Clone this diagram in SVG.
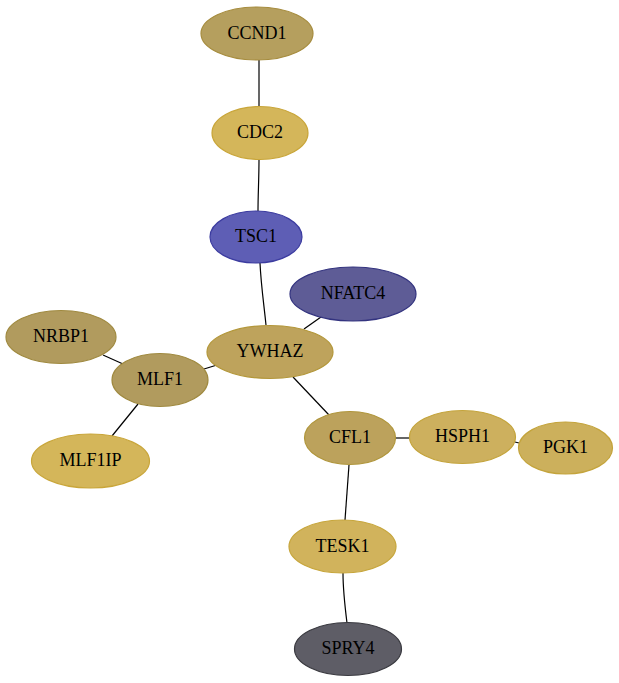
<svg xmlns="http://www.w3.org/2000/svg" width="619" height="683" viewBox="0 0 619 683">
<style>
  .edge { stroke: #000; stroke-width: 1.2; fill: none; }
  .node ellipse { stroke-width: 1.2; }
  .node text { font-family: "Liberation Serif", "Times New Roman", serif; font-size: 18px; text-anchor: middle; fill: #000; }
</style>
<rect width="619" height="683" fill="#fff"/>
<g id="edges">
  <path class="edge" d="M259,60 L259,107"/>
  <path class="edge" d="M259,160 C259,178 258,195 258,211"/>
  <path class="edge" d="M260,263 C261,285 264,305 266,325"/>
  <path class="edge" d="M321,317 L304,329"/>
  <path class="edge" d="M103,355 L123,364"/>
  <path class="edge" d="M204,369 L217,365"/>
  <path class="edge" d="M138,404 L112,436"/>
  <path class="edge" d="M293,377 L329,415"/>
  <path class="edge" d="M396,438 L409,438"/>
  <path class="edge" d="M515,442 L519,443"/>
  <path class="edge" d="M349,465 L345,520"/>
  <path class="edge" d="M343,573 C343,590 345,607 347,623"/>
</g>
<g id="CCND1" class="node"><ellipse cx="257" cy="33.5" rx="56" ry="26.5" fill="#b59f5e" stroke="#a68c3e"/><text x="257" y="38.5">CCND1</text></g>
<g id="CDC2" class="node"><ellipse cx="260" cy="133" rx="48" ry="26.5" fill="#d4b65a" stroke="#c9a63a"/><text x="260" y="138">CDC2</text></g>
<g id="TSC1" class="node"><ellipse cx="256" cy="237" rx="46" ry="26" fill="#5e5eb5" stroke="#3c3ca0"/><text x="256" y="242">TSC1</text></g>
<g id="NFATC4" class="node"><ellipse cx="353" cy="294" rx="63" ry="27" fill="#5e5c96" stroke="#33337f"/><text x="353" y="299">NFATC4</text></g>
<g id="NRBP1" class="node"><ellipse cx="61" cy="337" rx="55" ry="26.5" fill="#b19b5e" stroke="#a08a40"/><text x="61" y="342">NRBP1</text></g>
<g id="YWHAZ" class="node"><ellipse cx="270" cy="352" rx="63" ry="26.5" fill="#bea35c" stroke="#b3973a"/><text x="270" y="357">YWHAZ</text></g>
<g id="MLF1" class="node"><ellipse cx="160" cy="380" rx="48" ry="26.5" fill="#b19b5e" stroke="#a08a40"/><text x="160" y="385">MLF1</text></g>
<g id="MLF1IP" class="node"><ellipse cx="90.5" cy="461" rx="59" ry="27" fill="#d4b65a" stroke="#c9a63a"/><text x="90.5" y="466">MLF1IP</text></g>
<g id="CFL1" class="node"><ellipse cx="350" cy="438" rx="45.5" ry="26.5" fill="#bca25c" stroke="#b0963c"/><text x="350" y="443">CFL1</text></g>
<g id="HSPH1" class="node"><ellipse cx="462.5" cy="437" rx="53" ry="26.5" fill="#cdb05e" stroke="#c4a43c"/><text x="462.5" y="442">HSPH1</text></g>
<g id="PGK1" class="node"><ellipse cx="565.5" cy="448" rx="47" ry="26" fill="#ccb05c" stroke="#c4a43c"/><text x="565.5" y="453">PGK1</text></g>
<g id="TESK1" class="node"><ellipse cx="342.5" cy="546.5" rx="53.5" ry="26.5" fill="#d1b35c" stroke="#c7a63c"/><text x="342.5" y="551.5">TESK1</text></g>
<g id="SPRY4" class="node"><ellipse cx="348" cy="649" rx="53.5" ry="26.5" fill="#5e5d66" stroke="#3a3a40"/><text x="348" y="654">SPRY4</text></g>
</svg>
